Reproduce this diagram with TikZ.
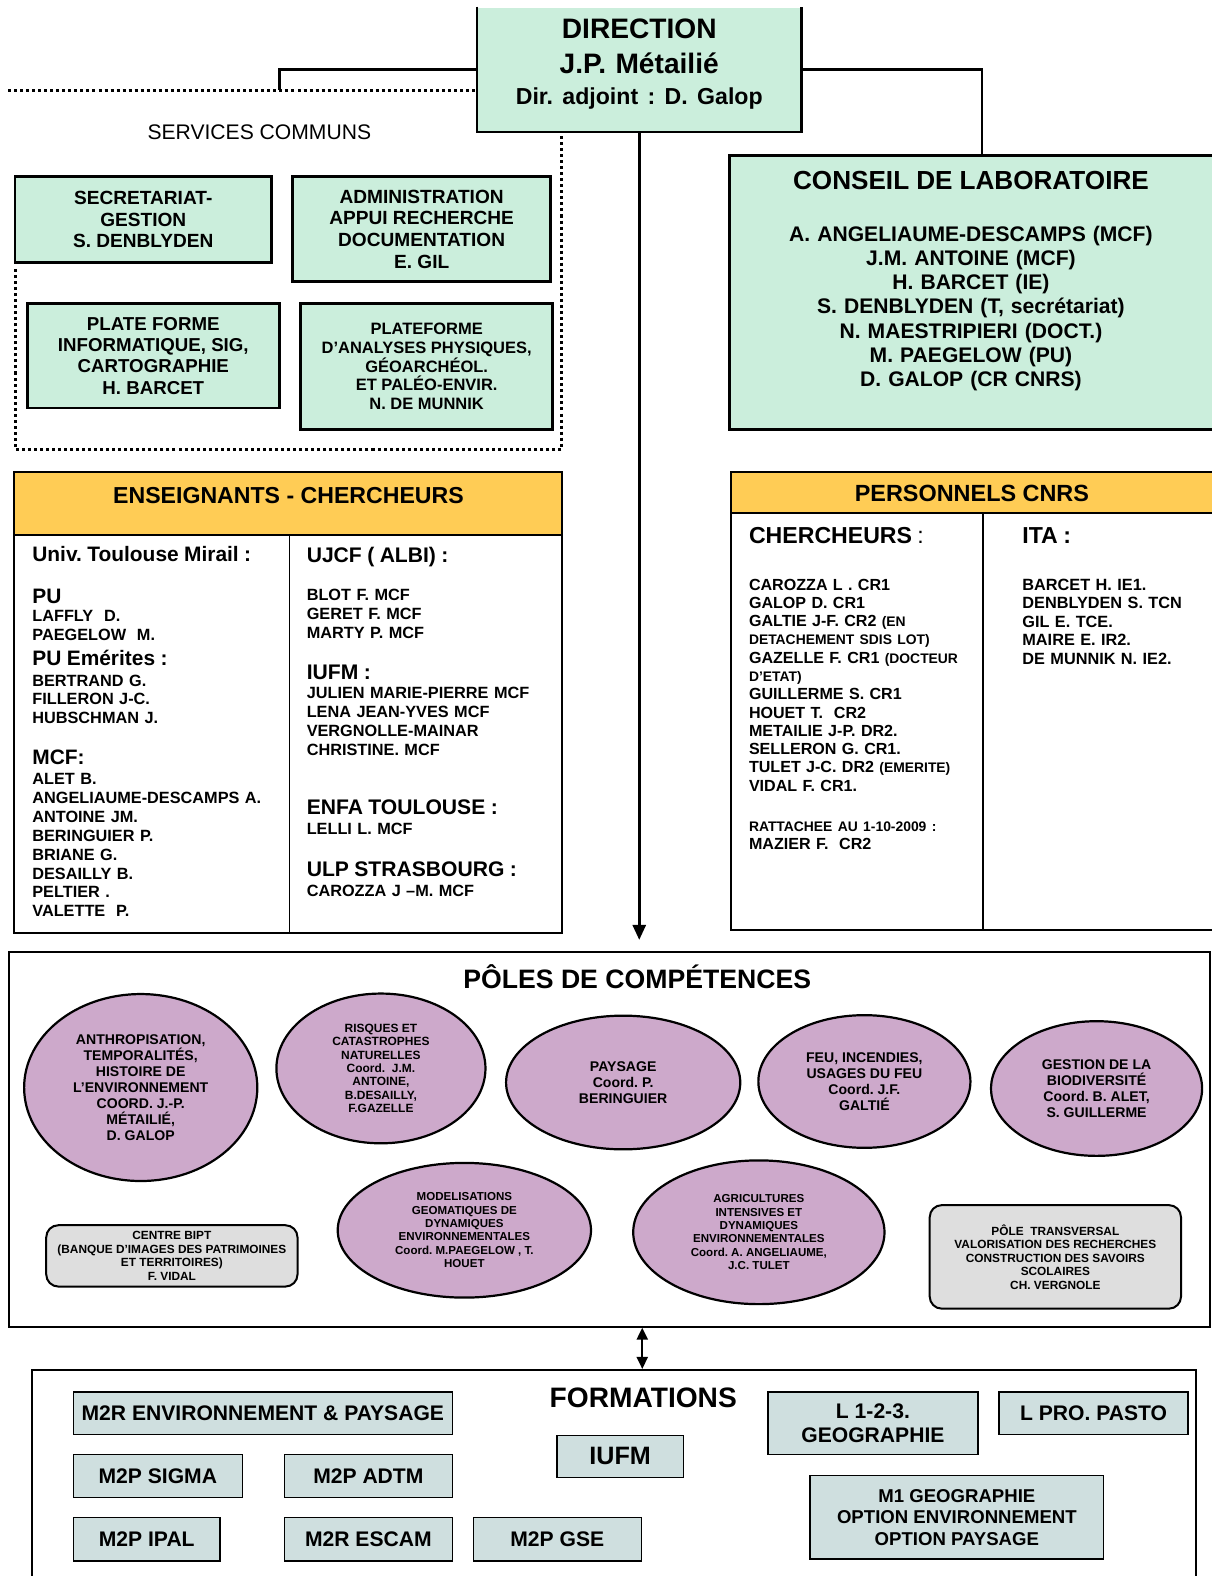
\documentclass[tikz,border=0pt]{standalone}
\usepackage{fontspec}
\setmainfont{Liberation Sans}
\usetikzlibrary{shapes.geometric,arrows.meta}
\definecolor{mint}{HTML}{CBEEDC}
\definecolor{gold}{HTML}{FFCC55}
\definecolor{mauve}{HTML}{CDA9CB}
\definecolor{pale}{HTML}{DEDEDE}
\definecolor{steel}{HTML}{CFDFDF}
\newcommand{\fsz}[2]{\fontsize{#1}{#2}\selectfont}
\frenchspacing

\begin{document}
\begin{tikzpicture}[x=1pt,y=-1pt]
  \tikzset{
    greenbox/.style={draw,line width=2.8pt,fill=mint,align=center,inner sep=0pt},
    frame/.style={draw,line width=1.8pt,inner sep=0pt},
    header/.style={frame,fill=gold},
    pole/.style={ellipse,draw,line width=2.2pt,fill=mauve,inner sep=0pt,align=center,font=\bfseries\fsz{14}{16}},
    greybox/.style={draw,line width=2pt,rounded corners=12pt,fill=pale,inner sep=0pt,align=center,font=\bfseries\fsz{11.8}{13.4}},
    course/.style={draw,line width=1.4pt,fill=steel,inner sep=0pt,align=center,font=\bfseries\fsz{21}{23}},
    link/.style={line width=2.8pt},
    dotline/.style={line width=3pt,dash pattern=on 3pt off 3pt},
    col/.style={anchor=base west,inner sep=0pt,align=left,text width=260pt},
  }
  \useasboundingbox (0,0) rectangle (1205,1568);

  % direction
  \node[greenbox,draw=none,minimum width=320pt,minimum height=122pt] (dir) at (636,69) {};
  \draw[link] (dir.north west) |- (dir.south east) -- (dir.north east);
  \node[anchor=base,inner sep=0pt,text width=320pt,align=center,font=\bfseries\fsz{28}{35}] (dirT) at (636,38)
    {DIRECTION\\J.P. Métailié\\[-3.7pt]{\fsz{23}{35}Dir. adjoint : D. Galop}};

  % services communs
  \node[font=\fsz{21}{25},inner sep=0pt] (svc) at (258,132) {SERVICES COMMUNS};
  \node[greenbox,minimum width=255pt,minimum height=85pt,font=\bfseries\fsz{19}{21.5}] (secr) at (142.5,218.5)
    {SECRETARIAT-\\GESTION\\S. DENBLYDEN};
  \node[greenbox,minimum width=257pt,minimum height=104pt,font=\bfseries\fsz{19}{21.5}] (admin) at (419.5,228)
    {ADMINISTRATION\\APPUI RECHERCHE\\DOCUMENTATION\\E. GIL};
  \node[greenbox,minimum width=251pt,minimum height=104pt,font=\bfseries\fsz{18.6}{21.3}] (sig) at (152.5,354)
    {PLATE FORME\\INFORMATIQUE, SIG,\\CARTOGRAPHIE\\H. BARCET};
  \node[greenbox,minimum width=251pt,minimum height=125pt,font=\bfseries\fsz{16.4}{18.8}] (labo) at (424.5,364.5)
    {PLATEFORME\\D'ANALYSES PHYSIQUES,\\GÉOARCHÉOL.\\ET PALÉO-ENVIR.\\N. DE MUNNIK};

  % conseil
  \node[greenbox,minimum width=502pt,minimum height=272pt] (conseil) at (977,291) {};
  \node[anchor=base,inner sep=0pt,text width=480pt,align=center,font=\bfseries\fsz{21}{24}] (conseilT) at (966,188.3)
    {{\fsz{26}{24}CONSEIL DE LABORATOIRE}\\[28pt]
     A. ANGELIAUME-DESCAMPS (MCF)\\J.M. ANTOINE (MCF)\\H. BARCET (IE)\\S. DENBLYDEN (T, secrétariat)\\
     N. MAESTRIPIERI (DOCT.)\\M. PAEGELOW (PU)\\D. GALOP (CR CNRS)};

  % connectors
  \coordinate (svcTop) at (278,90);
  \coordinate (dotW) at (8,90);
  \coordinate (svcNE) at (559,447);
  \coordinate (svcSW) at (15,447);
  \coordinate (svcEnd) at (15,265);
  \draw[link] (dir.west) -| (svcTop);
  \draw[dotline] (dotW) -- (dotW -| dir.west);
  \draw[dotline,shorten <=4pt] (dir.south -| svcNE) -- (svcNE) -- (svcSW) -- (svcEnd);
  \draw[link] (dir.east) -| (conseil.north);

  % enseignants - chercheurs
  \node[header,minimum width=545pt,minimum height=62pt] (ensH) at (286.5,501) {};
  \node[font=\bfseries\fsz{23}{24},inner sep=0pt] (ensT) at (287,493) {ENSEIGNANTS - CHERCHEURS};
  \node[frame,minimum width=274pt,minimum height=396pt] (ensL) at (151,730) {};
  \node[frame,minimum width=271pt,minimum height=396pt] (ensR) at (423.5,730) {};
  \node[col,font=\bfseries\fsz{16.2}{18.8}] (utm) at (32,558.2)
    {{\fsz{20.8}{18.8}Univ. Toulouse Mirail :}\\[23pt]
     {\fsz{20.8}{18.8}PU}\\
     LAFFLY\ \ D.\\
     PAEGELOW\ \ M.\\[5.8pt]
     {\fsz{20.8}{18.8}PU Emérites :}\\[1.6pt]
     BERTRAND G.\\
     FILLERON J-C.\\
     HUBSCHMAN J.\\[21.8pt]
     {\fsz{20.8}{18.8}MCF:}\\[1pt]
     ALET B.\\
     ANGELIAUME-DESCAMPS A.\\
     ANTOINE JM.\\
     BERINGUIER P.\\
     BRIANE G.\\
     DESAILLY B.\\
     PELTIER .\\
     VALETTE\ \ P.};
  \node[col,font=\bfseries\fsz{16.2}{18.8}] (albi) at (305,559.4)
    {{\fsz{21}{18.8}UJCF ( ALBI) :}\\[19pt]
     BLOT F. MCF\\
     GERET F. MCF\\
     MARTY P. MCF\\[22.4pt]
     {\fsz{21}{18.8}IUFM :}\\
     JULIEN MARIE-PIERRE MCF\\
     LENA JEAN-YVES MCF\\
     VERGNOLLE-MAINAR\\
     CHRISTINE. MCF\\[40.4pt]
     {\fsz{21}{18.8}ENFA TOULOUSE :}\\[1.4pt]
     LELLI L. MCF\\[22.4pt]
     {\fsz{21}{18.8}ULP STRASBOURG :}\\[1.2pt]
     CAROZZA J –M. MCF};

  % personnels cnrs
  \node[header,minimum width=498pt,minimum height=40pt] (cnrsH) at (976,490) {};
  \node[font=\bfseries\fsz{23.3}{24},inner sep=0pt] (cnrsT) at (967,491) {PERSONNELS CNRS};
  \node[frame,minimum width=251pt,minimum height=415pt] (cnrsL) at (852.5,717.5) {};
  \node[frame,minimum width=247pt,minimum height=415pt] (cnrsR) at (1101.5,717.5) {};
  \node[col,font=\bfseries\fsz{16}{18.2}] (cher) at (745,541.2)
    {{\fsz{23}{18.2}CHERCHEURS \mdseries:}\\[27.6pt]
     CAROZZA L . CR1\\
     GALOP D. CR1\\
     GALTIE J-F. CR2 {\fsz{13.8}{18.2}(EN}\\
     {\fsz{13.8}{18.2}DETACHEMENT SDIS LOT)}\\
     GAZELLE F. CR1 {\fsz{13.8}{18.2}(DOCTEUR}\\
     {\fsz{13.8}{18.2}D'ETAT)}\\
     GUILLERME S. CR1\\
     HOUET T.\ \ CR2\\
     METAILIE J-P. DR2.\\
     SELLERON G. CR1.\\
     TULET J-C. DR2 {\fsz{13.8}{18.2}(EMERITE)}\\
     VIDAL F. CR1.\\[22pt]
     {\fsz{13.8}{18.2}RATTACHEE AU 1-10-2009 :}\\
     MAZIER F.\ \ CR2};
  \node[col,font=\bfseries\fsz{16.2}{18.5}] (ita) at (1017,541.2)
    {{\fsz{23}{18.5}ITA :}\\[27.4pt]
     BARCET H. IE1.\\
     DENBLYDEN S. TCN\\
     GIL E. TCE.\\
     MAIRE E. IR2.\\
     DE MUNNIK N. IE2.};

  % poles de competences
  \node[frame,minimum width=1195pt,minimum height=373pt] (poles) at (606.5,1133.5) {};
  \node[font=\bfseries\fsz{26.5}{30},inner sep=0pt] (polesT) at (634,972) {PÔLES DE COMPÉTENCES};
  \draw[link,-{Triangle[length=15pt,width=13pt]},shorten >=11pt] (dir.south) -- (dir.south |- poles.north);

  \node[pole,minimum width=232pt,minimum height=186pt] (anthro) at (140,1082)
    {ANTHROPISATION,\\TEMPORALITÉS,\\HISTOIRE DE\\L'ENVIRONNEMENT\\COORD. J.-P.\\MÉTAILIÉ,\\D. GALOP};
  \node[pole,minimum width=208pt,minimum height=149pt,font=\bfseries\fsz{11.9}{13.3}] (risques) at (379,1063)
    {RISQUES ET\\CATASTROPHES\\NATURELLES\\Coord.\ \ J.M.\\ANTOINE,\\B.DESAILLY,\\F.GAZELLE};
  \node[pole,minimum width=233pt,minimum height=133pt] (paysage) at (620,1077)
    {PAYSAGE\\Coord. P.\\BERINGUIER};
  \node[pole,minimum width=211pt,minimum height=132pt] (feu) at (860,1076)
    {FEU, INCENDIES,\\USAGES DU FEU\\Coord. J.F.\\GALTIÉ};
  \node[pole,minimum width=210pt,minimum height=134pt] (biodiv) at (1091,1083)
    {GESTION DE LA\\BIODIVERSITÉ\\Coord. B. ALET,\\S. GUILLERME};
  \node[pole,minimum width=252pt,minimum height=134pt,font=\bfseries\fsz{11.5}{13.3}] (modelis) at (462,1224)
    {MODELISATIONS\\GEOMATIQUES DE\\DYNAMIQUES\\ENVIRONNEMENTALES\\Coord. M.PAEGELOW , T.\\HOUET};
  \node[pole,minimum width=250pt,minimum height=143pt,font=\bfseries\fsz{11.5}{13.3}] (agri) at (755,1226)
    {AGRICULTURES\\INTENSIVES ET\\DYNAMIQUES\\ENVIRONNEMENTALES\\Coord. A. ANGELIAUME,\\J.C. TULET};
  \node[greybox,minimum width=250pt,minimum height=61pt] (bipt) at (171,1249.5)
    {CENTRE BIPT\\(BANQUE D'IMAGES DES PATRIMOINES\\ET TERRITOIRES)\\F. VIDAL};
  \node[greybox,minimum width=250pt,minimum height=103pt] (transv) at (1050,1250.5)
    {PÔLE\ \ TRANSVERSAL\\VALORISATION DES RECHERCHES\\CONSTRUCTION DES SAVOIRS\\SCOLAIRES\\CH. VERGNOLE};

  % formations
  \node[frame,minimum width=1158pt,minimum height=240pt,anchor=north] (form) at (611,1362) {};
  \node[font=\bfseries\fsz{28}{30},inner sep=0pt] (formT) at (640,1391) {FORMATIONS};
  \coordinate (lnk) at (639,0);
  \draw[link,line width=2.2pt,{Triangle[length=12pt,width=11pt]}-{Triangle[length=12pt,width=11pt]}]
    (lnk |- poles.south) -- (lnk |- form.north);

  \node[course,minimum width=377pt,minimum height=42pt] (m2rEnv) at (261.5,1406) {M2R ENVIRONNEMENT \& PAYSAGE};
  \node[course,minimum width=168pt,minimum height=43pt] (m2pSigma) at (157,1468.5) {M2P SIGMA};
  \node[course,minimum width=167pt,minimum height=43pt] (m2pAdtm) at (366.5,1468.5) {M2P ADTM};
  \node[course,minimum width=146pt,minimum height=43pt] (m2pIpal) at (146,1531.5) {M2P IPAL};
  \node[course,minimum width=167pt,minimum height=43pt] (m2rEscam) at (366.5,1531.5) {M2R ESCAM};
  \node[course,minimum width=167pt,minimum height=43pt] (m2pGse) at (554.5,1531.5) {M2P GSE};
  \node[course,minimum width=126pt,minimum height=42pt,font=\bfseries\fsz{25}{26}] (iufm) at (617,1449) {IUFM};
  \node[course,minimum width=209pt,minimum height=62pt] (licence) at (868.5,1416) {L 1-2-3.\\GEOGRAPHIE};
  \node[course,minimum width=188pt,minimum height=42pt] (lpro) at (1088,1406) {L PRO. PASTO};
  \node[course,minimum width=292pt,minimum height=83pt,font=\bfseries\fsz{18.5}{21.5}] (m1) at (952,1509.5)
    {M1 GEOGRAPHIE\\OPTION ENVIRONNEMENT\\OPTION PAYSAGE};
\end{tikzpicture}
\end{document}
